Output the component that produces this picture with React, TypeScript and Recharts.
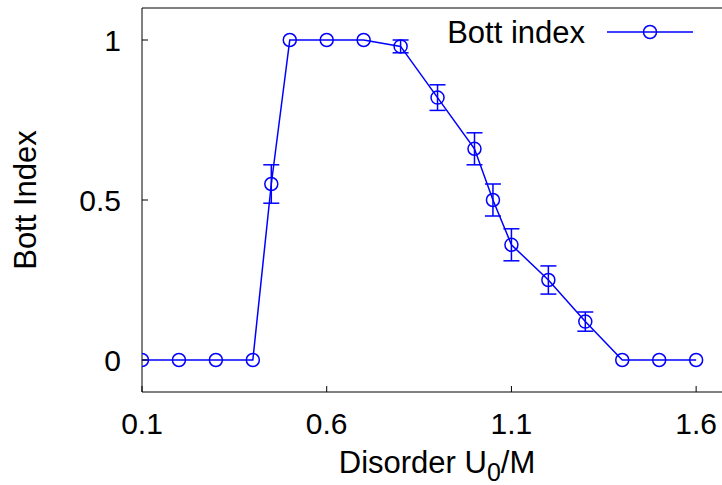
import { LineChart, Line, XAxis, YAxis, ErrorBar } from 'recharts';

// Bott index vs disorder strength U0/M
const disorder = [0.1, 0.2, 0.3, 0.4, 0.45, 0.5, 0.6, 0.7, 0.8, 0.9, 1.0, 1.05, 1.1, 1.2, 1.3, 1.4, 1.5, 1.6];
const bott = [0, 0, 0, 0, 0.55, 1, 1, 1, 0.98, 0.82, 0.66, 0.5, 0.36, 0.25, 0.12, 0, 0, 0];
const bottErr = [0, 0, 0, 0, 0.06, 0, 0, 0, 0.02, 0.04, 0.05, 0.05, 0.05, 0.044, 0.03, 0, 0, 0];

const xTicks = [0.1, 0.6, 1.1, 1.6];
const yTicks = [0, 0.5, 1];

const data = disorder.map((x, i) => ({ x, bott: bott[i], err: bottErr[i] }));

const FONT = '"Liberation Sans", Arial, Helvetica, sans-serif';
const BLUE = '#0000ff';

const XTitle = (props: any) => {
    const { viewBox } = props;
    const cx = viewBox.x + 295;
    const by = viewBox.y + 81;
    return (
        <text x={cx} y={by} textAnchor="middle" fontFamily={FONT} fontSize={31} fill="#000">
            <tspan>Disorder U</tspan>
            <tspan dy={8} fontSize={25}>0</tspan>
            <tspan dy={-8}>/M</tspan>
        </text>
    );
};

export default function App() {
    return (
        <div style={{ position: 'absolute', left: 0, top: 0, width: 722, height: 485, background: '#fff', fontFamily: FONT }}>
            <LineChart width={722} height={485} data={data} margin={{ top: 7, right: 0, bottom: 0, left: 0 }}>
                <XAxis
                    dataKey="x"
                    type="number"
                    domain={[0.1, 1.67]}
                    ticks={xTicks}
                    allowDataOverflow
                    height={93}
                    tickSize={-6}
                    tickMargin={27}
                    stroke="#000"
                    tick={{ fill: '#000', fontSize: 30, fontFamily: FONT }}
                    tickFormatter={(v: number) => String(v)}
                    label={<XTitle />}
                />
                <XAxis
                    xAxisId="top"
                    orientation="top"
                    dataKey="x"
                    type="number"
                    domain={[0.1, 1.67]}
                    ticks={xTicks}
                    allowDataOverflow
                    height={1}
                    tickSize={-6}
                    tick={false}
                    stroke="#000"
                />
                <YAxis
                    type="number"
                    domain={[-0.1, 1.1]}
                    ticks={yTicks}
                    allowDataOverflow
                    width={142}
                    tickSize={-6}
                    tickMargin={27}
                    stroke="#000"
                    tick={{ fill: '#000', fontSize: 30, fontFamily: FONT }}
                    tickFormatter={(v: number) => String(v)}
                    label={{
                        value: 'Bott Index',
                        angle: -90,
                        position: 'insideLeft',
                        offset: 25,
                        style: { textAnchor: 'middle', fontSize: 31, fontFamily: FONT, fill: '#000' },
                    }}
                />
                {/* invisible companion series so the top (border) axis gets drawn */}
                <Line
                    xAxisId="top"
                    dataKey="bott"
                    stroke="none"
                    dot={false}
                    activeDot={false}
                    legendType="none"
                    isAnimationActive={false}
                />
                <Line
                    dataKey="bott"
                    stroke={BLUE}
                    strokeWidth={1.5}
                    dot={{ r: 6.5, stroke: BLUE, strokeWidth: 1.5, fill: 'none' }}
                    activeDot={false}
                    isAnimationActive={false}
                >
                    <ErrorBar dataKey="err" width={8} stroke={BLUE} strokeWidth={1.5} direction="y" />
                </Line>
            </LineChart>
            <svg width={722} height={70} style={{ position: 'absolute', left: 0, top: 0, pointerEvents: 'none' }}>
                <text x={585} y={43} textAnchor="end" fontFamily={FONT} fontSize={31} fill="#000">Bott index</text>
                <line x1={607} x2={693} y1={32} y2={32} stroke={BLUE} strokeWidth={1.5} />
                <circle cx={650} cy={32} r={6.5} stroke={BLUE} strokeWidth={1.5} fill="none" />
            </svg>
        </div>
    );
}
